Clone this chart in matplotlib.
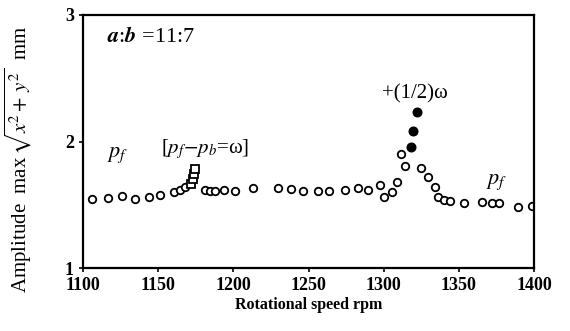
import matplotlib.pyplot as plt

plt.rcParams['font.family'] = ['Liberation Serif', 'DejaVu Serif']
plt.rcParams['mathtext.fontset'] = 'stix'

# open circles: regular response
speed = [1105.8, 1116.9, 1125.8, 1134.7, 1144.0, 1151.0, 1160.7, 1164.7, 1168.0,
         1181.3, 1184.7, 1188.0, 1193.6, 1201.3, 1212.9, 1229.6, 1238.4, 1246.2,
         1256.4, 1263.6, 1274.2, 1283.1, 1289.6, 1297.6, 1300.0, 1305.8, 1308.6,
         1311.3, 1314.0, 1325.0, 1329.3, 1334.0, 1335.8, 1340.2, 1344.2, 1353.6,
         1365.1, 1372.0, 1376.9, 1389.6, 1398.7]
amp = [1.545, 1.553, 1.57, 1.545, 1.56, 1.58, 1.60, 1.62, 1.64,
       1.62, 1.61, 1.61, 1.62, 1.61, 1.63, 1.63, 1.625, 1.61,
       1.61, 1.61, 1.62, 1.63, 1.62, 1.66, 1.565, 1.60, 1.68,
       1.905, 1.81, 1.79, 1.72, 1.64, 1.56, 1.54, 1.53, 1.51,
       1.52, 1.51, 1.51, 1.485, 1.49]

# squares: combination resonance pf - pb = w
speed_sq = [1171.8, 1172.9, 1173.5, 1174.7]
amp_sq = [1.664, 1.70, 1.74, 1.785]

# filled circles: +(1/2)w
speed_half = [1318.0, 1319.8, 1322.4]
amp_half = [1.955, 2.085, 2.23]

fig = plt.figure(figsize=(5.7, 3.31), dpi=100)
ax = fig.add_axes([0.1456, 0.1903, 0.7914, 0.7644])

ax.plot(speed, amp, 'o', mfc='white', mec='black', ms=5.4, mew=1.3, ls='none')
ax.plot(speed_sq, amp_sq, 's', mfc='white', mec='black', ms=5.6, mew=1.3, ls='none')
ax.plot(speed_half, amp_half, 'o', mfc='black', mec='black', ms=6.2, ls='none')

ax.set_xlim(1100, 1400)
ax.set_ylim(1, 3)
ax.set_xticks([1100, 1150, 1200, 1250, 1300, 1350, 1400])
ax.set_yticks([1, 2, 3])
for s in ax.spines.values():
    s.set_linewidth(1.6)
ax.tick_params(direction='out', length=3, width=1.2, labelsize=13)
for lb in ax.get_xticklabels() + ax.get_yticklabels():
    lb.set_fontweight('bold')

ax.set_xlabel('Rotational speed rpm', fontsize=11.5, fontweight='bold', labelpad=2)
ax.set_ylabel(r'Amplitude  max$\,\sqrt{x^2+\,y^2}$  mm', fontsize=15)
ax.yaxis.set_label_coords(-0.108, 0.43)

ax.text(1116, 2.83, r'$\boldsymbol{a}$:$\boldsymbol{b}$ =11:7', fontsize=16,
        ha='left', va='center')
ax.text(1123, 1.89, r'$p_f$', fontsize=16, ha='center', va='center')
ax.text(1375, 1.68, r'$p_f$', fontsize=16, ha='center', va='center')
ax.text(1181, 1.94, r'[$p_f$$-$$p_b$=ω]', fontsize=15, ha='center', va='center')
ax.text(1321, 2.38, '+(1/2)ω', fontsize=15, ha='center', va='center')

fig.savefig('out.png', dpi=100)
